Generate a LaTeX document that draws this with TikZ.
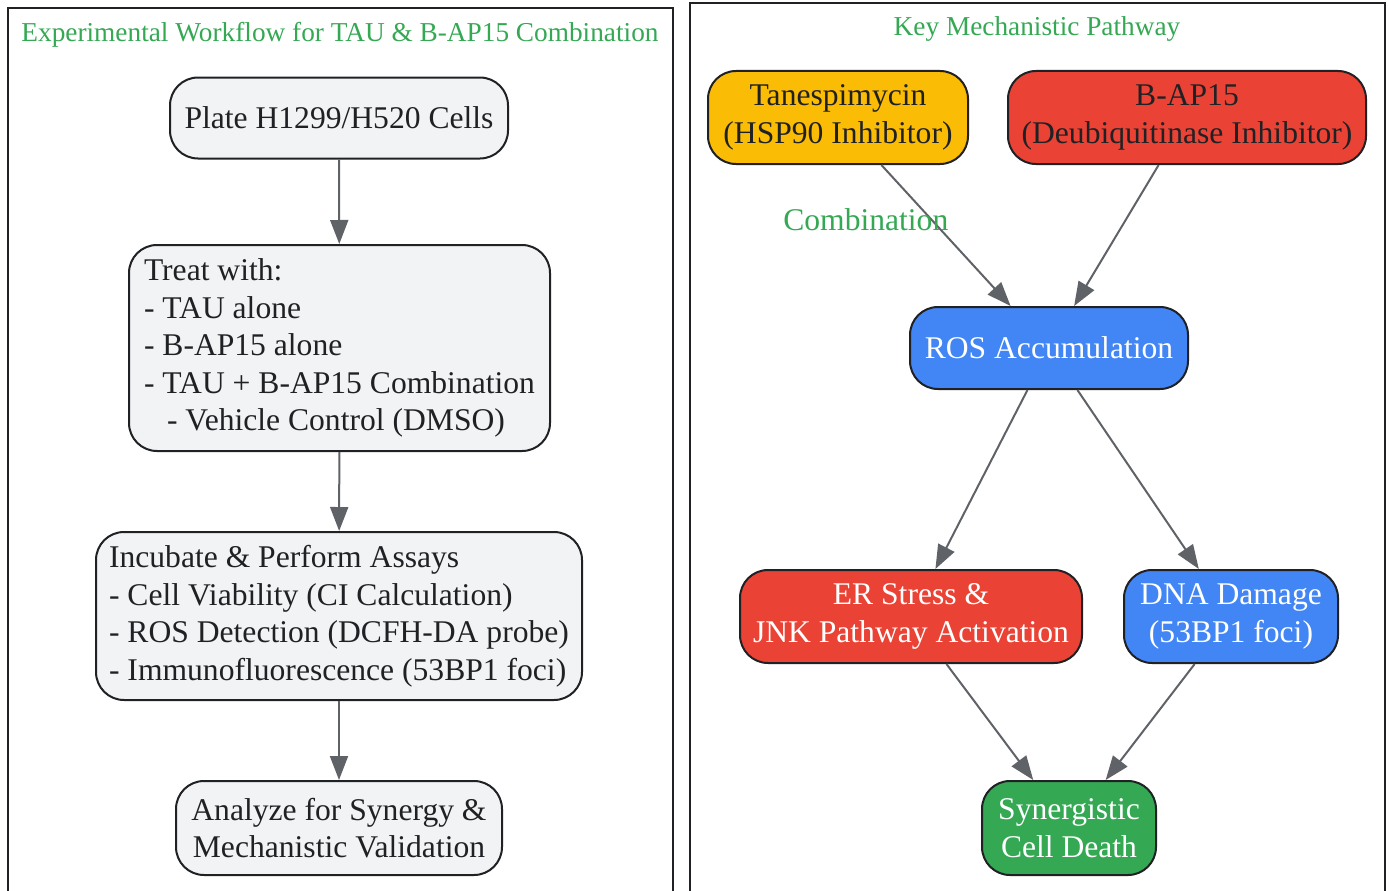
\documentclass[tikz,border=0pt]{standalone}
\usepackage{fontspec}
\setmainfont{Liberation Serif}
\usepackage{tikz}
\usetikzlibrary{arrows.meta}
\usepackage{xcolor}
\definecolor{ink}{HTML}{202124}
\definecolor{boxgray}{HTML}{F1F3F4}
\definecolor{gyellow}{HTML}{FBBC05}
\definecolor{gred}{HTML}{EA4335}
\definecolor{gblue}{HTML}{4285F4}
\definecolor{ggreen}{HTML}{34A853}
\definecolor{linegray}{HTML}{5F6368}

\begin{document}
\begin{tikzpicture}[x=1pt,y=-1pt,
		box/.style={draw=ink, line width=2pt, rounded corners=28pt, inner sep=0pt, text=ink, align=center},
		flow/.style={draw=linegray, line width=2pt, -{Triangle[length=24pt,width=18pt]}},
		clustertitle/.style={text=ggreen, font=\fontsize{27.3}{32}\selectfont}]
		\tikzstyle{every node}=[font=\fontsize{31.6}{37.5}\selectfont]
		\useasboundingbox (0,0) rectangle (1389,891);
		% the two panels
		\draw[draw=ink, line width=2pt] (8,8) rectangle (673,905);
		\draw[draw=ink, line width=2pt] (690,3) rectangle (1385,905);
		\node[clustertitle] (lefttitle) at (340,35) {Experimental Workflow for TAU \& B-AP15 Combination};
		\node[clustertitle] (righttitle) at (1037,29) {Key Mechanistic Pathway};
		% workflow
		\node[box, fill=boxgray, minimum width=338pt, minimum height=81pt] (plate) at (339,118) {Plate H1299/H520 Cells};
		\node[box, fill=boxgray, align=left, minimum width=421pt, minimum height=206pt] (treat) at (339.5,348)
			{Treat with:\\- TAU alone\\- B-AP15 alone\\- TAU + B-AP15 Combination\\\hspace*{23pt}- Vehicle Control (DMSO)};
		\node[box, fill=boxgray, align=left, minimum width=486pt, minimum height=168pt] (assay) at (339,616)
			{Incubate \& Perform Assays\\- Cell Viability (CI Calculation)\\- ROS Detection (DCFH-DA probe)\\- Immunofluorescence (53BP1 foci)};
		\node[box, fill=boxgray, minimum width=326pt, minimum height=94pt] (analyze) at (339,828) {Analyze for Synergy \&\\Mechanistic Validation};
		\draw[flow] (plate) -- (treat);
		\draw[flow] (treat) -- (assay);
		\draw[flow] (assay) -- (analyze);
		% pathway
		\node[box, fill=gyellow, minimum width=260pt, minimum height=93pt] (tau) at (838,117.5) {Tanespimycin\\(HSP90 Inhibitor)};
		\node[box, fill=gred, minimum width=358pt, minimum height=93pt] (bap) at (1187,117.5) {B-AP15\\(Deubiquitinase Inhibitor)};
		\node[box, fill=gblue, text=white, minimum width=278pt, minimum height=82pt] (ros) at (1049,348) {ROS Accumulation};
		\node[box, fill=gred, text=white, minimum width=342pt, minimum height=93pt] (er) at (911,616.5) {ER Stress \&\\JNK Pathway Activation};
		\node[box, fill=gblue, text=white, minimum width=214pt, minimum height=93pt] (dna) at (1231,616.5) {DNA Damage\\(53BP1 foci)};
		\node[box, fill=ggreen, text=white, minimum width=174pt, minimum height=94pt] (death) at (1069,828) {Synergistic\\Cell Death};
		\draw[flow] (tau) -- node[text=ggreen, pos=0.39, xshift=-66pt] (combo) {Combination} (ros);
		\draw[flow] (bap) -- (ros);
		\draw[flow] (ros) -- (er);
		\draw[flow] (ros) -- (dna);
		\draw[flow] (er) -- (death);
		\draw[flow] (dna) -- (death);
	\end{tikzpicture}
\end{document}
